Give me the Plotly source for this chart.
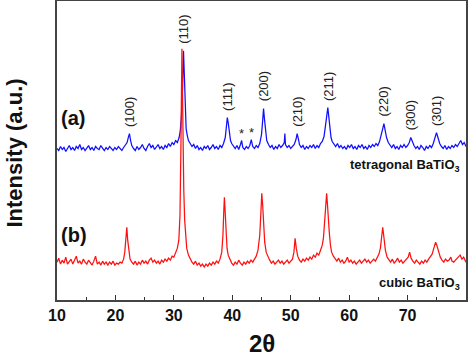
import plotly.graph_objects as go

# ---------------- data ----------------
blue_2theta = [10.0,10.3,10.6,10.9,11.2,11.5,11.8,12.1,12.4,12.7,13.0,13.3,13.6,13.9,14.2,14.5,14.8,15.1,15.4,15.7,16.0,16.3,16.6,16.9,17.2,17.5,17.8,18.1,18.4,18.7,19.0,19.3,19.6,19.9,20.2,20.5,20.8,21.1,21.4,21.7,22.0,22.2,22.4,22.6,22.8,23.1,23.4,23.7,24.0,24.3,24.6,24.9,25.2,25.5,25.8,26.1,26.4,26.7,27.0,27.3,27.6,27.9,28.2,28.5,28.8,29.1,29.4,29.7,30.0,30.3,30.6,30.9,31.1,31.3,31.5,31.65,31.8,31.95,32.1,32.3,32.5,32.8,33.1,33.4,33.7,34.0,34.3,34.6,34.9,35.2,35.5,35.8,36.1,36.4,36.7,37.0,37.3,37.6,37.9,38.2,38.5,38.8,39.0,39.15,39.3,39.5,39.7,39.9,40.2,40.5,40.8,41.1,41.4,41.6,41.8,42.1,42.4,42.7,43.0,43.25,43.5,43.8,44.1,44.4,44.7,45.0,45.2,45.35,45.5,45.7,45.9,46.2,46.5,46.8,47.1,47.4,47.7,48.0,48.3,48.6,48.9,49.0,49.1,49.4,49.7,50.0,50.3,50.6,50.9,51.1,51.3,51.5,51.8,52.1,52.4,52.7,53.0,53.3,53.6,53.9,54.2,54.5,54.8,55.1,55.4,55.7,55.95,56.2,56.35,56.5,56.7,56.9,57.1,57.4,57.7,58.0,58.3,58.6,58.9,59.2,59.5,59.8,60.1,60.4,60.7,61.0,61.3,61.6,61.9,62.2,62.5,62.8,63.1,63.4,63.7,64.0,64.3,64.6,64.9,65.2,65.5,65.75,65.95,66.15,66.4,66.7,67.0,67.3,67.6,67.9,68.2,68.5,68.8,69.1,69.4,69.7,70.0,70.3,70.55,70.8,71.1,71.4,71.7,72.0,72.3,72.6,72.9,73.2,73.5,73.8,74.1,74.4,74.7,74.95,75.2,75.5,75.8,76.1,76.4,76.7,77.0,77.3,77.6,77.9,78.2,78.5,78.8,79.1,79.4,79.7,80.0]
blue_intensity = [152,150,154,151,153,149,152,155,151,153,150,154,152,156,151,153,150,152,155,151,153,150,154,152,151,155,152,150,153,151,154,152,150,153,151,154,152,150,153,155,158,163,167,160,155,152,150,154,151,153,156,152,150,154,157,153,155,151,153,156,152,154,151,155,153,157,154,158,156,160,158,163,170,185,215,250,225,190,172,165,160,157,154,156,152,155,151,153,150,154,152,155,151,153,156,152,154,151,155,153,157,163,175,183,178,166,160,157,154,152,155,151,156,160,153,151,154,152,155,161,154,152,155,153,157,166,180,192,182,167,160,156,153,155,151,154,152,156,153,155,158,167,156,153,155,152,154,156,161,167,162,156,153,155,151,154,152,155,153,156,152,155,153,157,159,164,175,188,193,185,172,163,159,156,154,157,153,155,152,154,151,155,153,156,152,154,151,155,153,156,152,154,151,155,153,156,154,157,155,159,165,172,177,170,163,158,155,153,156,152,154,151,155,153,156,153,155,158,163,159,155,152,154,151,155,153,150,154,152,155,153,157,162,168,163,157,154,152,155,151,154,152,155,153,156,154,157,160,156,158,154]

red_2theta = [10.0,10.3,10.6,10.9,11.2,11.5,11.8,12.1,12.4,12.7,13.0,13.3,13.6,13.9,14.2,14.5,14.8,15.1,15.4,15.7,16.0,16.3,16.6,16.9,17.2,17.5,17.8,18.1,18.4,18.7,19.0,19.3,19.6,19.9,20.2,20.5,20.8,21.1,21.4,21.6,21.8,21.95,22.1,22.3,22.5,22.8,23.1,23.4,23.7,24.0,24.3,24.6,24.9,25.2,25.5,25.8,26.1,26.4,26.7,27.0,27.3,27.6,27.9,28.2,28.5,28.8,29.1,29.4,29.7,30.0,30.3,30.6,30.85,31.05,31.2,31.3,31.38,31.46,31.55,31.7,31.85,32.0,32.2,32.5,32.8,33.1,33.4,33.7,34.0,34.3,34.6,34.9,35.2,35.5,35.8,36.1,36.4,36.7,37.0,37.3,37.6,37.9,38.2,38.4,38.55,38.65,38.75,38.9,39.1,39.3,39.6,39.9,40.2,40.5,40.8,41.1,41.4,41.7,42.0,42.3,42.6,42.9,43.2,43.5,43.8,44.1,44.4,44.7,44.9,45.05,45.2,45.35,45.55,45.8,46.1,46.4,46.7,47.0,47.3,47.6,47.9,48.2,48.5,48.8,49.1,49.4,49.7,50.0,50.3,50.55,50.75,50.95,51.2,51.5,51.8,52.1,52.4,52.7,53.0,53.3,53.6,53.9,54.2,54.5,54.8,55.1,55.4,55.6,55.8,56.0,56.15,56.3,56.45,56.6,56.8,57.0,57.3,57.6,57.9,58.2,58.5,58.8,59.1,59.4,59.7,60.0,60.3,60.6,60.9,61.2,61.5,61.8,62.1,62.4,62.7,63.0,63.3,63.6,63.9,64.2,64.5,64.8,65.1,65.35,65.55,65.75,65.95,66.2,66.5,66.8,67.1,67.4,67.7,68.0,68.3,68.6,68.9,69.2,69.5,69.8,70.1,70.35,70.6,70.9,71.2,71.5,71.8,72.1,72.4,72.7,73.0,73.3,73.6,73.9,74.2,74.5,74.8,75.0,75.3,75.6,75.9,76.2,76.5,76.8,77.1,77.4,77.6,77.9,78.2,78.5,78.8,79.0,79.3,79.6,80.0]
red_intensity = [38,42,36,40,37,43,36,39,41,36,40,44,37,39,36,41,38,36,40,37,35,39,44,36,38,35,39,36,38,35,38,36,39,35,37,36,38,37,41,48,62,73,60,47,41,38,36,39,35,38,36,40,37,39,36,40,42,38,40,37,39,36,40,38,41,39,42,40,44,43,47,52,60,85,150,215,252,215,160,110,80,62,52,45,41,38,36,39,35,37,34,36,33,36,34,37,35,38,36,39,37,41,48,65,90,103,92,68,52,45,40,37,35,38,36,40,37,35,38,36,39,37,40,38,41,44,50,65,88,107,95,75,58,48,43,40,37,39,36,38,40,37,39,36,38,40,37,39,41,48,62,52,44,40,38,41,39,42,40,43,41,45,43,47,45,50,55,62,78,98,107,95,73,68,55,48,44,41,39,42,38,40,37,39,43,38,40,37,39,36,38,40,37,39,41,38,40,37,39,41,39,42,46,52,62,73,63,50,43,40,38,41,37,39,42,38,40,37,39,41,43,48,42,39,37,40,38,36,39,37,40,38,41,43,46,52,58,55,48,43,40,38,41,39,40,43,39,38,40,42,44,45,41,43,38]

hkl_labels = ["(100)", "(110)", "(111)", "(200)", "(210)", "(211)", "(220)", "(300)", "(301)"]
hkl_2theta = [22.4, 31.65, 39.15, 45.35, 51.1, 56.35, 65.95, 70.55, 74.95]
impurity_2theta = [41.6, 43.25]
x_ticks = [10, 20, 30, 40, 50, 60, 70, 80]
sample_tags = ["(a)", "(b)"]
phase_names = ["tetragonal BaTiO<sub>3</sub>", "cubic BaTiO<sub>3</sub>"]
x_title = "2θ"
y_title = "Intensity (a.u.)"

FONT = "Liberation Sans, Arial, sans-serif"

fig = go.Figure()
fig.add_trace(go.Scatter(x=blue_2theta, y=blue_intensity, mode="lines",
                         line=dict(color="#1010ff", width=1.25), showlegend=False))
fig.add_trace(go.Scatter(x=red_2theta, y=red_intensity, mode="lines",
                         line=dict(color="#ff1010", width=1.25), showlegend=False))

def peak_height(xs, ys, x0):
    i = min(range(len(xs)), key=lambda k: abs(xs[k] - x0))
    return ys[i]

annotations = []
for lab, x0 in zip(hkl_labels, hkl_2theta):
    annotations.append(dict(x=x0, y=peak_height(blue_2theta, blue_intensity, x0),
                            text=lab, textangle=-90, showarrow=False,
                            xanchor="center", yanchor="bottom", yshift=5,
                            font=dict(family=FONT, size=13, color="#222")))
for x0 in impurity_2theta:
    annotations.append(dict(x=x0, y=peak_height(blue_2theta, blue_intensity, x0),
                            text="*", showarrow=False, xanchor="center",
                            yanchor="bottom", yshift=-2,
                            font=dict(family=FONT, size=13, color="#222")))

annotations += [
    dict(x=0.005, y=183, xref="paper", yref="y", text=sample_tags[0], showarrow=False,
         xanchor="left", yanchor="middle", font=dict(family=FONT, size=20, color="#111", weight="bold")),
    dict(x=0.005, y=65, xref="paper", yref="y", text=sample_tags[1], showarrow=False,
         xanchor="left", yanchor="middle", font=dict(family=FONT, size=20, color="#111", weight="bold")),
    dict(x=0.99, y=135, xref="paper", yref="y", text=phase_names[0], showarrow=False,
         xanchor="right", yanchor="middle", font=dict(family=FONT, size=13, color="#111", weight="bold")),
    dict(x=0.99, y=17, xref="paper", yref="y", text=phase_names[1], showarrow=False,
         xanchor="right", yanchor="middle", font=dict(family=FONT, size=13, color="#111", weight="bold")),
    dict(x=0.5, y=-0.145, xref="paper", yref="paper", text=x_title, showarrow=False,
         xanchor="center", yanchor="middle", font=dict(family=FONT, size=24, color="#111", weight="bold")),
    dict(x=-0.105, y=0.49, xref="paper", yref="paper", text=y_title, showarrow=False, textangle=-90,
         xanchor="center", yanchor="middle", font=dict(family=FONT, size=22, color="#111", weight="bold")),
]

fig.update_layout(
    width=474, height=356,
    margin=dict(l=57, r=8, t=1, b=56, autoexpand=False),
    plot_bgcolor="white", paper_bgcolor="white",
    annotations=annotations,
    xaxis=dict(range=[10, 80], tickvals=x_ticks, ticks="inside", ticklen=5, tickwidth=1.2,
               tickcolor="#333", showline=True, linecolor="#444", linewidth=1.5, mirror=True,
               showgrid=False, zeroline=False, automargin=False,
               minor=dict(dtick=5, tick0=5, ticks="inside", ticklen=3, tickcolor="#333", showgrid=False),
               tickfont=dict(family=FONT, size=16, color="#111", weight="bold")),
    yaxis=dict(range=[0, 300], showticklabels=False, ticks="", showline=True, linecolor="#444",
               linewidth=1.5, mirror=True, showgrid=False, zeroline=False, automargin=False),
)

fig.write_html("out.html",
               config={"displayModeBar": False},
               post_script="document.body.style.margin='0';document.body.style.padding='0';"
                           "document.documentElement.style.overflow='hidden';")
